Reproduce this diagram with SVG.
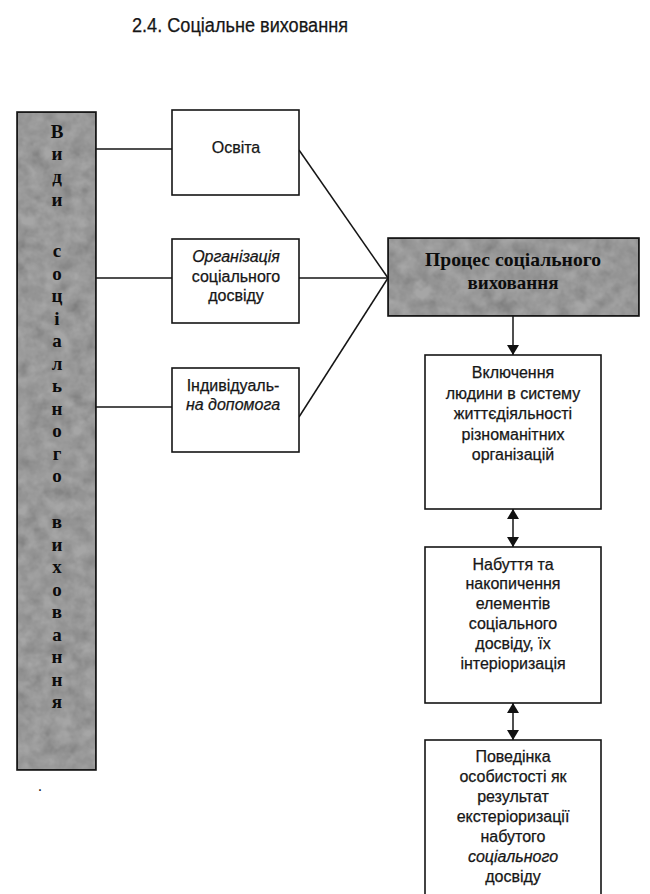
<svg xmlns="http://www.w3.org/2000/svg" width="650" height="894" viewBox="0 0 650 894">
<style>
.box{fill:#fff;stroke:#151515;stroke-width:1.6}
.gray{fill:#a6a6a6;stroke:#151515;stroke-width:1.6}
.t{font-family:"Liberation Sans",Arial,sans-serif;font-size:16px;fill:#161616;text-anchor:middle;stroke:#161616;stroke-width:0.25}
.i{font-style:italic}
.v{font-family:"Liberation Serif","Times New Roman",serif;font-weight:bold;font-size:19px;fill:#0c0c0c;text-anchor:middle}
.p{font-family:"Liberation Serif","Times New Roman",serif;font-weight:bold;font-size:19px;fill:#0c0c0c;text-anchor:middle}
.ln{stroke:#151515;stroke-width:1.5;fill:none}
</style>
<defs>
<filter id="grain" x="0" y="0" width="100%" height="100%">
<feTurbulence type="fractalNoise" baseFrequency="0.07" numOctaves="3" seed="4" result="t"/>
<feColorMatrix in="t" type="matrix" values="0.33 0.33 0.33 0 0.33  0.33 0.33 0.33 0 0.33  0.33 0.33 0.33 0 0.33  0 0 0 0 1" result="g"/>
<feComposite in="g" in2="SourceGraphic" operator="in" result="c"/>
<feBlend in="SourceGraphic" in2="c" mode="multiply"/>
</filter>
<marker id="ah" viewBox="0 0 10 12" refX="10" refY="6" markerWidth="10" markerHeight="12" markerUnits="userSpaceOnUse" orient="auto">
<path d="M0,0 L10,6 L0,12 Z" fill="#111"/>
</marker>
<marker id="as" viewBox="0 0 10 12" refX="0" refY="6" markerWidth="10" markerHeight="12" markerUnits="userSpaceOnUse" orient="auto">
<path d="M10,0 L0,6 L10,12 Z" fill="#111"/>
</marker>
</defs>
<rect width="650" height="894" fill="#fff"/>

<text x="240" y="32" font-family="'Liberation Sans',Arial,sans-serif" font-size="20" fill="#161616" stroke="#161616" stroke-width="0.25" text-anchor="middle" textLength="216" lengthAdjust="spacingAndGlyphs">2.4. Соціальне виховання</text>

<g id="connectors">
<line class="ln" x1="96" y1="149" x2="172" y2="149"/>
<line class="ln" x1="96" y1="278" x2="172" y2="278"/>
<line class="ln" x1="96" y1="407" x2="172" y2="407"/>
<line class="ln" x1="299" y1="150" x2="388" y2="278"/>
<line class="ln" x1="299" y1="278" x2="388" y2="278"/>
<line class="ln" x1="299" y1="417" x2="388" y2="278"/>
<line class="ln" x1="513" y1="316" x2="513" y2="355" marker-end="url(#ah)"/>
<line class="ln" x1="513" y1="509" x2="513" y2="547" marker-start="url(#as)" marker-end="url(#ah)"/>
<line class="ln" x1="513" y1="703" x2="513" y2="740" marker-start="url(#as)" marker-end="url(#ah)"/>
</g>

<g id="types">
<rect class="gray" x="17" y="112" width="79" height="658" filter="url(#grain)"/>
<rect x="17" y="112" width="79" height="658" fill="none" stroke="#151515" stroke-width="1.6"/>
<text class="v" x="57" y="138">В</text>
<text class="v" x="57" y="160">и</text>
<text class="v" x="57" y="183">д</text>
<text class="v" x="57" y="206">и</text>
<text class="v" x="57" y="257">с</text>
<text class="v" x="57" y="279.5">о</text>
<text class="v" x="57" y="302">ц</text>
<text class="v" x="57" y="324.5">і</text>
<text class="v" x="57" y="347">а</text>
<text class="v" x="57" y="369.5">л</text>
<text class="v" x="57" y="392">ь</text>
<text class="v" x="57" y="414.5">н</text>
<text class="v" x="57" y="437">о</text>
<text class="v" x="57" y="459.5">г</text>
<text class="v" x="57" y="482">о</text>
<text class="v" x="57" y="528">в</text>
<text class="v" x="57" y="550.5">и</text>
<text class="v" x="57" y="573">х</text>
<text class="v" x="57" y="595.5">о</text>
<text class="v" x="57" y="618">в</text>
<text class="v" x="57" y="640.5">а</text>
<text class="v" x="57" y="663">н</text>
<text class="v" x="57" y="685.5">н</text>
<text class="v" x="57" y="708">я</text>
</g>

<g id="osvita">
<rect class="box" x="172" y="110" width="127" height="85"/>
<text class="t" x="236" y="153">Освіта</text>
</g>

<g id="org">
<rect class="box" x="172" y="239" width="127" height="84"/>
<text class="t i" x="236" y="262">Організація</text>
<text class="t" x="236" y="282">соціального</text>
<text class="t" x="236" y="301">досвіду</text>
</g>

<g id="indiv">
<rect class="box" x="172" y="368" width="127" height="84"/>
<text class="t" x="233" y="391">Індивідуаль-</text>
<text class="t i" x="233" y="410">на допомога</text>
</g>

<g id="process">
<rect class="gray" x="388" y="238" width="251" height="78" filter="url(#grain)"/>
<rect x="388" y="238" width="251" height="78" fill="none" stroke="#151515" stroke-width="1.6"/>
<text class="p" x="513" y="266" textLength="176" lengthAdjust="spacingAndGlyphs">Процес соціального</text>
<text class="p" x="513" y="289">виховання</text>
</g>

<g id="step1">
<rect class="box" x="425" y="355" width="176" height="154"/>
<text class="t" x="513" y="378">Включення</text>
<text class="t" x="513" y="398.5">людини в систему</text>
<text class="t" x="513" y="419">життєдіяльності</text>
<text class="t" x="513" y="439.5">різноманітних</text>
<text class="t" x="513" y="460">організацій</text>
</g>

<g id="step2">
<rect class="box" x="425" y="547" width="176" height="156"/>
<text class="t" x="513" y="570">Набуття та</text>
<text class="t" x="513" y="589">накопичення</text>
<text class="t" x="513" y="609">елементів</text>
<text class="t" x="513" y="629">соціального</text>
<text class="t" x="513" y="649">досвіду, їх</text>
<text class="t" x="513" y="669">інтеріоризація</text>
</g>

<g id="step3">
<rect class="box" x="425" y="740" width="176" height="170"/>
<text class="t" x="513" y="762">Поведінка</text>
<text class="t" x="513" y="782">особистості як</text>
<text class="t" x="513" y="802">результат</text>
<text class="t" x="513" y="822">екстеріоризації</text>
<text class="t" x="513" y="842">набутого</text>
<text class="t i" x="513" y="862">соціального</text>
<text class="t" x="513" y="882">досвіду</text>
</g>

<text x="40" y="791" font-family="'Liberation Sans',Arial,sans-serif" font-size="16" fill="#222" text-anchor="middle">.</text>
</svg>
